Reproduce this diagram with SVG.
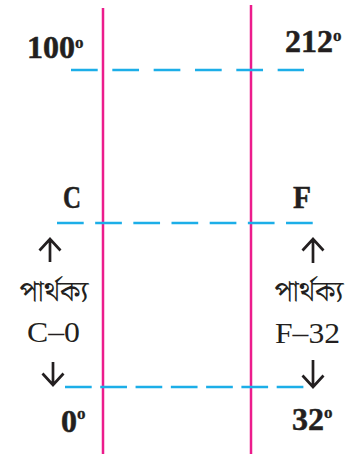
<svg xmlns="http://www.w3.org/2000/svg" width="357" height="454" viewBox="0 0 357 454">
<style>
.axis{stroke:#EC1C8C;stroke-width:2.5;fill:none}
.dash{stroke:#1CAEE8;stroke-width:2.3;fill:none}
.arr{stroke:#231F20;stroke-width:2.7;fill:none;stroke-linecap:butt;stroke-linejoin:miter}
.b{font-family:"Liberation Serif","Times New Roman",serif;font-weight:bold;font-size:32px;fill:#231F20;stroke:#231F20;stroke-width:0.5}
.sup{font-size:17px;stroke-width:0.3}
.r{font-family:"Liberation Serif","Times New Roman",serif;font-size:30px;fill:#231F20}
.bn{font-family:"Noto Serif Bengali","Noto Sans Bengali","Lohit Bengali","Liberation Serif",serif;font-size:29px;fill:#231F20}
</style>
<g id="connectors">
<line class="axis" x1="103" y1="8" x2="103" y2="454"/>
<line class="axis" x1="251" y1="5" x2="251" y2="454"/>
<line class="dash" x1="71" y1="70" x2="304" y2="70" style="stroke-dasharray:26.7 14.63"/>
<line class="dash" x1="57" y1="223" x2="313" y2="223" style="stroke-dasharray:26.7 11.47"/>
<line class="dash" x1="65" y1="387" x2="304" y2="387" style="stroke-dasharray:26.7 8.58"/>
<path class="arr" d="M50,262 V239 M39.5,250.5 L50,239 L60.5,250.5"/>
<path class="arr" d="M53,362 V385 M42.5,373.5 L53,385 L63.5,373.5"/>
<path class="arr" d="M313,263 V239 M302.5,250.5 L313,239 L323.5,250.5"/>
<path class="arr" d="M313,360 V387 M302.5,375.5 L313,387 L323.5,375.5"/>
</g>
<g id="label-100">
<text class="b" x="27" y="58">100<tspan class="sup" dy="-10">o</tspan></text>
</g>
<g id="label-212">
<text class="b" x="285" y="52">212<tspan class="sup" dy="-11">o</tspan></text>
</g>
<g id="label-C">
<text class="b" x="63" y="208" textLength="18" lengthAdjust="spacingAndGlyphs">C</text>
</g>
<g id="label-F">
<text class="b" x="293" y="208" textLength="18" lengthAdjust="spacingAndGlyphs">F</text>
</g>
<g id="label-left-diff">
<text class="bn" x="54" y="301" text-anchor="middle">পার্থক্য</text>
<text class="r" x="27" y="342" textLength="53" lengthAdjust="spacingAndGlyphs">C–0</text>
</g>
<g id="label-right-diff">
<text class="bn" x="309" y="301" text-anchor="middle">পার্থক্য</text>
<text class="r" x="275" y="343" textLength="65" lengthAdjust="spacingAndGlyphs">F–32</text>
</g>
<g id="label-0">
<text class="b" x="61" y="432">0<tspan class="sup" dy="-13">o</tspan></text>
</g>
<g id="label-32">
<text class="b" x="292" y="430">32<tspan class="sup" dy="-12">o</tspan></text>
</g>
</svg>
